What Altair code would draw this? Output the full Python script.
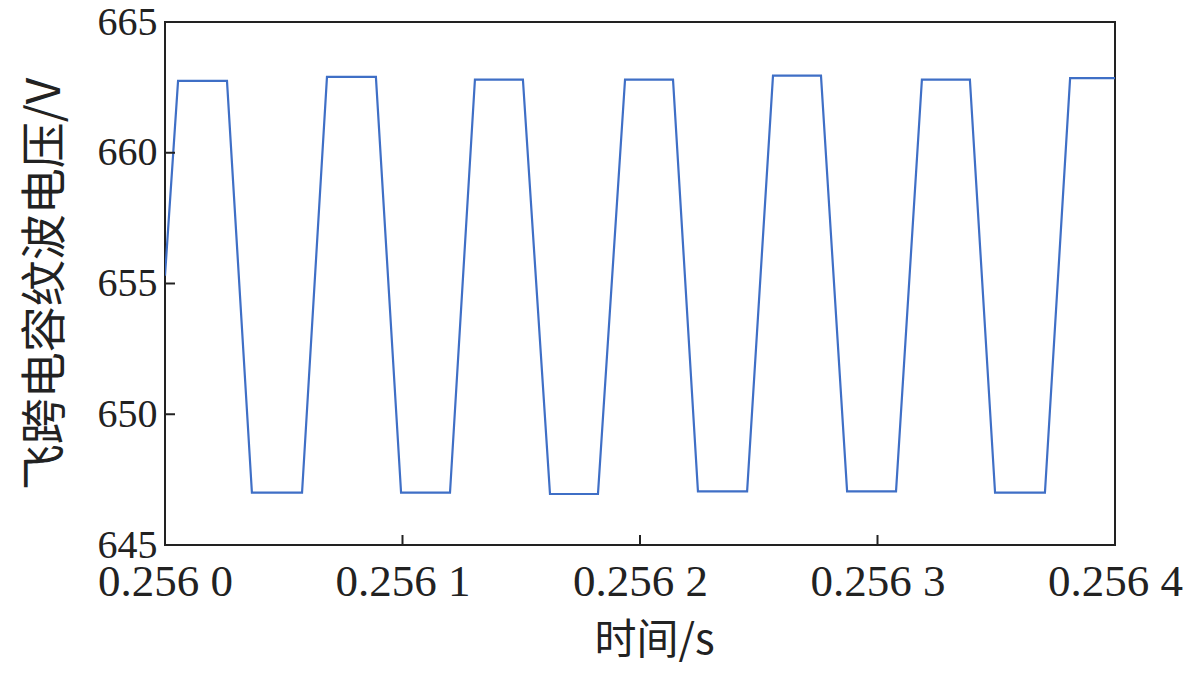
import altair as alt
import pandas as pd

# time (s) and flying-capacitor ripple voltage (V)
t = [0.2560000, 0.2560055, 0.2560261, 0.2560366, 0.2560577, 0.2560682, 0.2560888,
     0.2560994, 0.2561200, 0.2561305, 0.2561507, 0.2561621, 0.2561823, 0.2561937,
     0.2562139, 0.2562244, 0.2562451, 0.2562560, 0.2562762, 0.2562872, 0.2563078,
     0.2563187, 0.2563389, 0.2563495, 0.2563705, 0.2563811, 0.2564000]
v = [655.3, 662.75, 662.75, 647.0, 647.0, 662.9, 662.9, 647.0, 647.0, 662.8, 662.8,
     646.95, 646.95, 662.8, 662.8, 647.05, 647.05, 662.95, 662.95, 647.05, 647.05,
     662.8, 662.8, 647.0, 647.0, 662.85, 662.85]

x_ticks = [0.2560, 0.2561, 0.2562, 0.2563, 0.2564]
y_ticks = [645, 650, 655, 660, 665]
x_inner = [0.2561, 0.2562, 0.2563]
y_inner = [650, 655, 660]

W, H = 950, 523
FONT = "Liberation Serif"
CJK = "Noto Sans CJK SC"

df = pd.DataFrame({"t": t, "v": v})
xs = alt.Scale(domain=[0.2560, 0.2564], nice=False, zero=False)
ys = alt.Scale(domain=[645, 665], nice=False, zero=False)

line = alt.Chart(df).mark_line(color="#3f6fc6", strokeWidth=2.2, clip=True).encode(
    x=alt.X("t:Q", scale=xs,
            axis=alt.Axis(values=x_ticks, title="时间/s", titleFont=CJK, titleFontSize=42,
                          titleFontWeight="normal", titleColor="#222", titlePadding=16,
                          titleX=489,
                          labelExpr="substring(format(datum.value,'.4f'),0,5) + ' ' + substring(format(datum.value,'.4f'),5)",
                          labelFont=FONT, labelFontSize=45, labelColor="#222", labelPadding=14,
                          labelOverlap=False, labelBound=False, labelFlush=False,
                          ticks=False, domain=False, grid=False)),
    y=alt.Y("v:Q", scale=ys,
            axis=alt.Axis(values=y_ticks, title="飞跨电容纹波电压/V", titleFont=CJK, titleFontSize=46,
                          titleFontWeight="normal", titleColor="#222", titlePadding=28,
                          labelFont=FONT, labelFontSize=40, labelColor="#222", labelPadding=8,
                          labelOverlap=False, labelBound=False, labelFlush=False,
                          ticks=False, domain=False, grid=False)),
)

xt = alt.Chart(pd.DataFrame({"x": x_inner})).mark_rule(color="#222", strokeWidth=2).encode(
    x=alt.X("x:Q", scale=xs), y=alt.value(H), y2=alt.value(H - 10))
yt = alt.Chart(pd.DataFrame({"y": y_inner})).mark_rule(color="#222", strokeWidth=2).encode(
    y=alt.Y("y:Q", scale=ys), x=alt.value(0), x2=alt.value(10))

chart = alt.layer(line, xt, yt).properties(
    width=W, height=H,
    autosize=alt.AutoSizeParams(type="none"),
    padding={"left": 157, "top": 14, "right": 74, "bottom": 128},
).configure(background="white").configure_view(stroke="#222", strokeWidth=2)

chart.save("out.html", embed_options={"renderer": "svg", "actions": False})
